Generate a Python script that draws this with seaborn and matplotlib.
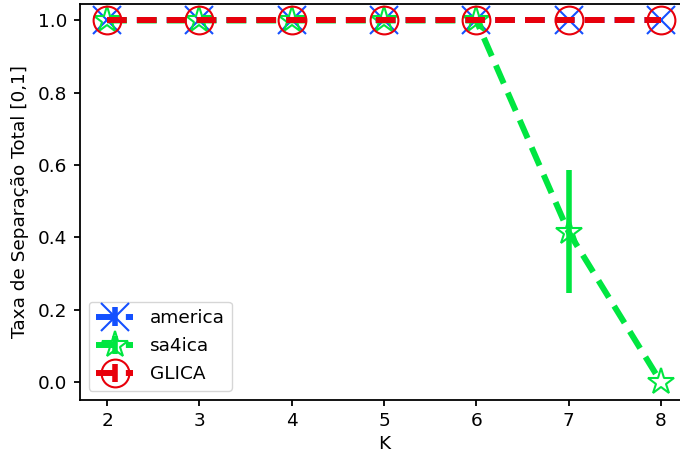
import numpy as np
import pandas as pd
import seaborn as sns
import matplotlib
matplotlib.use("Agg")
import matplotlib.pyplot as plt

K = [2, 3, 4, 5, 6, 7, 8]
america = [1.0, 1.0, 1.0, 1.0, 1.0, 1.0, 1.0]
america_err = [0, 0, 0, 0, 0, 0, 0]
sa4ica = [1.0, 1.0, 1.0, 1.0, 1.0, 0.415, 0.0]
sa4ica_err = [0, 0, 0, 0, 0, 0.17, 0]
glica = [1.0, 1.0, 1.0, 1.0, 1.0, 1.0, 1.0]
glica_err = [0, 0, 0, 0, 0, 0, 0]

sns.set_theme(style="ticks")
plt.rcParams['font.family'] = ['DejaVu Sans']
plt.rcParams['axes.edgecolor'] = 'black'
plt.rcParams['xtick.color'] = 'black'
plt.rcParams['ytick.color'] = 'black'
plt.rcParams['text.color'] = 'black'
plt.rcParams['axes.labelcolor'] = 'black'

fig = plt.figure(figsize=(6.8, 4.55), dpi=100)
ax = fig.add_axes([79.5/680, 55/455, 609/680, 396.5/455])

series = [
    ("america", america, america_err, 'x', '#1450ff'),
    ("sa4ica", sa4ica, sa4ica_err, '*', '#00e640'),
    ("GLICA", glica, glica_err, 'o', '#e8000b'),
]
for name, vals, err, mk, col in series:
    ax.errorbar(K, vals, yerr=err, label=name, color=col, marker=mk,
                markersize=20, markerfacecolor='none', markeredgecolor=col,
                markeredgewidth=1.5, linestyle='--', linewidth=4.3,
                elinewidth=4.0, capsize=0, dashes=(3.3, 1.7))

ax.set_xlim(1.7, 8.3)
ax.set_ylim(-0.05, 1.047)
ax.set_xticks(K)
ax.set_yticks([0.0, 0.2, 0.4, 0.6, 0.8, 1.0])
ax.set_yticklabels(['0.0', '0.2', '0.4', '0.6', '0.8', '1.0'])
ax.tick_params(labelsize=13.3, length=4.5, width=1.3, pad=4.5)
ax.set_xlabel('K', fontsize=13.3, labelpad=3)
ax.set_ylabel('Taxa de Separação Total [0,1]', fontsize=13.3, labelpad=6)
for s in ax.spines.values():
    s.set_linewidth(1.3)
ax.legend(loc='lower left', fontsize=13.3, handlelength=2.0, borderpad=0.4,
          labelspacing=0.55, handletextpad=0.9, frameon=True,
          bbox_to_anchor=(0.0, 0.0))

fig.savefig('out.png', dpi=100)
